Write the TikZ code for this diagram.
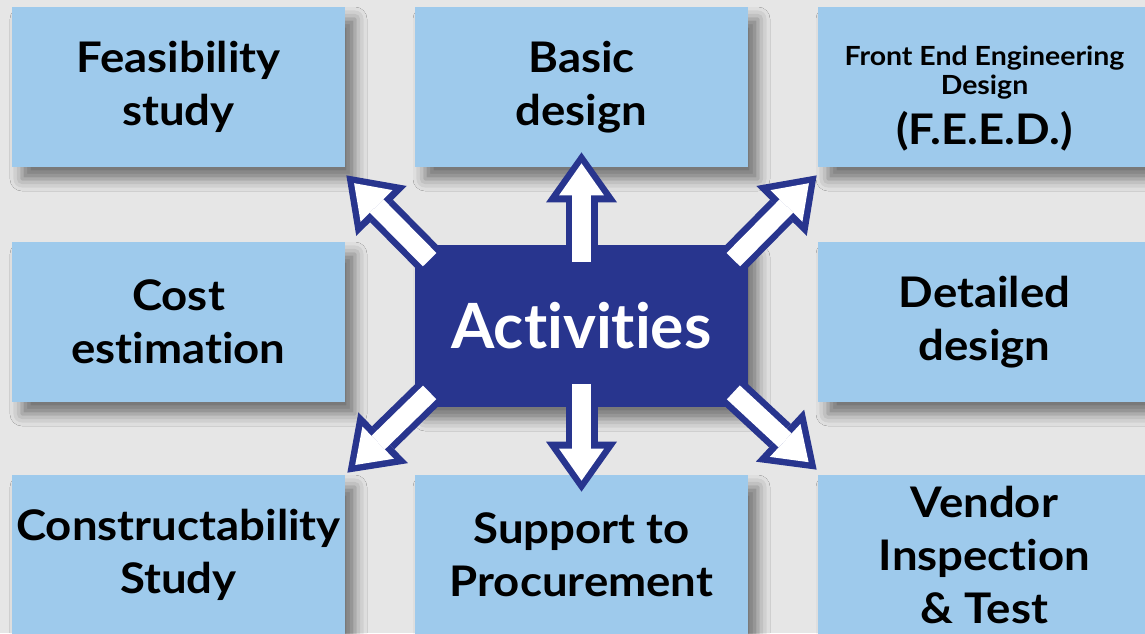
\documentclass[tikz,border=0pt]{standalone}
\usepackage{fontspec}
\setmainfont{Lato}[Ligatures=NoCommon, FakeStretch=1.08]
\newfontfamily\actfont{Lato}[Ligatures=NoCommon]
\usepackage{tikz}
\usetikzlibrary{arrows.meta}
\usetikzlibrary{shadows.blur}
\usepackage{xcolor}
\definecolor{bggrey}{RGB}{230,230,230}
\definecolor{boxblue}{RGB}{158,202,236}
\definecolor{actblue}{RGB}{40,53,142}
\newcommand{\feedsmall}[1]{{\fontsize{15}{16.4}\selectfont #1}}

\begin{document}
\begin{tikzpicture}
\tikzset{>={Triangle[length=1.0cm,width=1.42cm,line width=0pt]}}
\tikzstyle{task} =[rectangle, fill = boxblue, inner sep=0pt, minimum width=6.66cm, minimum height=3.2cm, align=center, font=\fontsize{24}{30}\selectfont\bfseries, blur shadow={shadow xshift=0.2cm, shadow yshift=-0.24cm, shadow blur radius=0.24cm, shadow opacity=50}]
\tikzstyle{bigarrow} =[draw=white, line width=0.38cm, -{Triangle[length=0.64cm,width=0.9cm,line width=0pt]}, shorten >=0.22cm, preaction={draw=actblue, line width=0.64cm, ->, shorten >=0pt}]
\useasboundingbox (0,0) rectangle (22.9,-12.66);
\fill[bggrey] (0,0) rectangle (22.9,-12.66);

\node[task](feas) at (3.57,-1.74){Feasibility\\study};
\node[task](basic) at (11.63,-1.74){Basic\\design};
\node[task](feed) at (19.69,-1.74){\mbox{}\\[-0.2cm]\feedsmall{Front End Engineering}\\[-0.48cm]\feedsmall{Design}\\[-0.04cm](F.E.E.D.)};
\node[task](cost) at (3.57,-6.44){Cost\\estimation};
\node[task](detail) at (19.69,-6.44){Detailed\\design};
\node[task](constr) at (3.57,-11.1){Constructability\\Study};
\node[task](procure) at (11.63,-11.1){Support to\\Procurement};
\node[task](vendor) at (19.69,-11.1){Vendor\\Inspection\\\& Test};
\node[task, fill=actblue, text=white, minimum height=3.24cm, font=\actfont\fontsize{35.5}{40}\selectfont\bfseries](act) at (11.63,-6.52){Activities};

\draw [bigarrow] ([yshift=-0.34cm]act.north) to ([yshift=0.3cm]basic.south);
\draw [bigarrow] ([yshift=0.46cm]act.south) to ([yshift=-0.34cm]procure.north);
\draw [bigarrow] ([shift={(0.3,-0.3)}]act.north west) to ([shift={(0.02,-0.16)}]feas.south east);
\draw [bigarrow] ([shift={(-0.3,-0.3)}]act.north east) to ([shift={(-0.02,-0.16)}]feed.south west);
\draw [bigarrow] ([shift={(0.3,0.3)}]act.south west) to ([shift={(0.04,0.04)}]constr.north east);
\draw [bigarrow] ([shift={(-0.3,0.3)}]act.south east) to ([shift={(-0.02,0.1)}]vendor.north west);
\end{tikzpicture}
\end{document}
